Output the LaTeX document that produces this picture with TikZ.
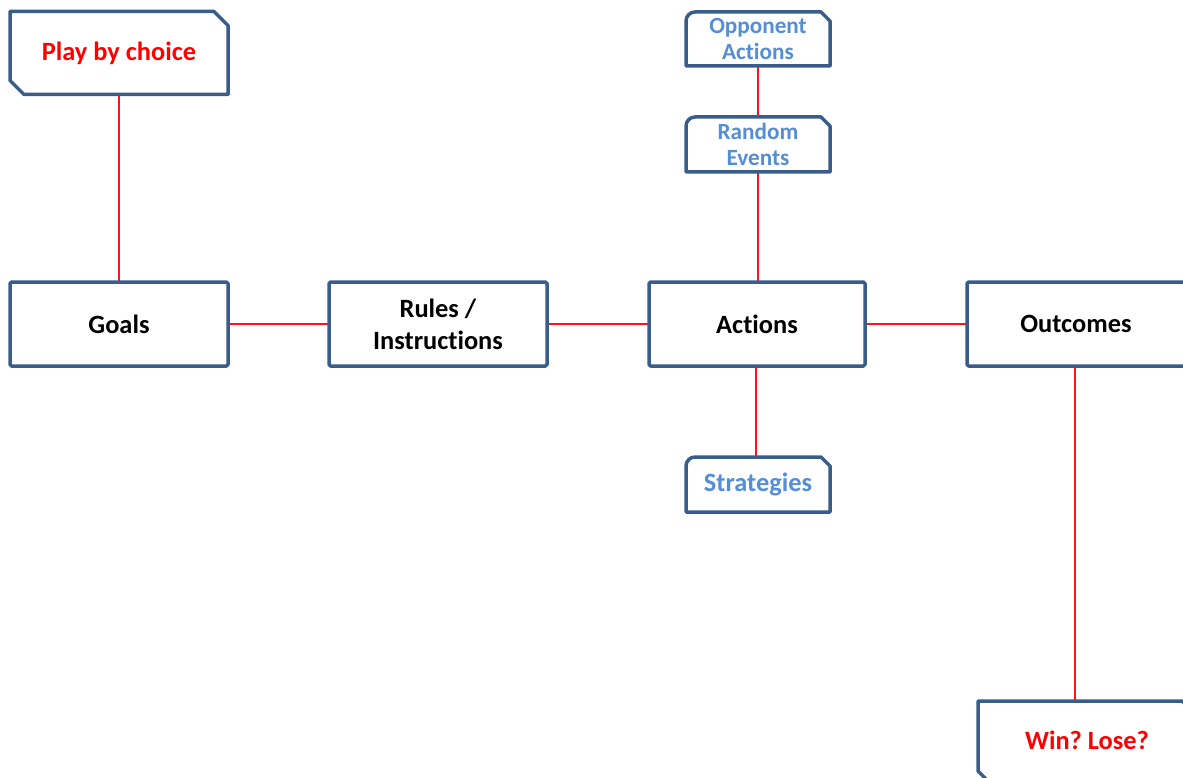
\documentclass[tikz,border=0pt]{standalone}
\usepackage{fontspec}
\setmainfont{Carlito}[Ligatures=NoCommon]
\frenchspacing
\definecolor{bordercol}{RGB}{56,93,138}
\definecolor{bluetext}{RGB}{85,142,213}
\definecolor{linered}{RGB}{255,20,20}
\begin{document}
\begin{tikzpicture}[x=1pt,y=1pt,
  every node/.style={inner sep=0pt, outer sep=0pt, align=center},
  border/.style={draw=bordercol, line width=3.5pt, fill=white, line join=round},
  mainfont/.style={font=\fontsize{26.4}{32}\selectfont\bfseries},
  bluefont/.style={font=\fontsize{23.2}{26.5}\selectfont\bfseries, text=bluetext},
  rectbox/.style={minimum width=218pt, minimum height=84pt},
  snipbox/.style={minimum width=218pt, minimum height=83pt},
  bluebox/.style={minimum width=144pt, minimum height=55pt},
  conn/.style={draw=linered, line width=1.3pt}
]
\useasboundingbox (0,0) rectangle (1183,-778);
\clip (0,0) rectangle (1183,-778);

% nodes (shape holders)
\node[snipbox] (play) at (119,-53) {};
\node[rectbox] (goals) at (119,-324) {};
\node[rectbox] (rules) at (438,-324) {};
\node[rectbox, minimum width=216pt] (actions) at (757,-324) {};
\node[rectbox] (outcomes) at (1076,-324) {};
\node[bluebox, minimum height=54pt] (opp) at (758,-39) {};
\node[bluebox] (rand) at (758,-144.5) {};
\node[bluebox] (strat) at (758,-484.5) {};
\node[snipbox, minimum height=84pt] (win) at (1087,-743) {};

% connectors
\draw[conn] (play.south) -- (goals.north);
\draw[conn] (goals.east) -- (rules.west);
\draw[conn] (rules.east) -- (actions.west);
\draw[conn] (actions.east) -- (outcomes.west);
\draw[conn] (opp.south) -- (rand.north);
\draw[conn] (rand.south) -- (rand.south |- actions.north);
\draw[conn] ([xshift=-1pt]actions.south) -- ([xshift=-1pt]actions.south |- strat.north);
\draw[conn] ([xshift=-1pt]outcomes.south) -- ([xshift=-1pt]outcomes.south |- win.north);

% snipped shapes
\foreach \n in {play,win}{
  \draw[border] (\n.north west) -- ([xshift=-14pt]\n.north east) -- ([yshift=-14pt]\n.north east)
    -- (\n.south east) -- ([xshift=14pt]\n.south west) -- ([yshift=14pt]\n.south west) -- cycle;
}
% snip-and-round shapes
\foreach \n in {opp,rand,strat}{
  \draw[border] (\n.south west) -- ([yshift=-9pt]\n.north west)
    arc[start angle=180, end angle=90, radius=9pt]
    -- ([xshift=-9pt]\n.north east) -- ([yshift=-9pt]\n.north east)
    -- (\n.south east) -- cycle;
}
% rectangles
\foreach \n in {goals,rules,actions,outcomes}{
  \draw[border, rounded corners=1.5pt] (\n.south west) rectangle (\n.north east);
}

% texts
\node[mainfont, text=red] at (play.center) {Play by choice};
\node[mainfont] at (goals.center) {Goals};
\node[mainfont] at (rules.center) {Rules /\\Instructions};
\node[mainfont] at (actions.center) {Actions};
\node[mainfont] at (outcomes.center) {Outcomes};
\node[bluefont] at (opp.center) {Opponent\\Actions};
\node[bluefont] at (rand.center) {Random\\Events};
\node[bluefont, font=\fontsize{26.4}{32}\selectfont\bfseries] at (strat.center) {Strategies};
\node[mainfont, text=red] at ([yshift=3pt]win.center) {Win? Lose?};
\end{tikzpicture}
\end{document}
